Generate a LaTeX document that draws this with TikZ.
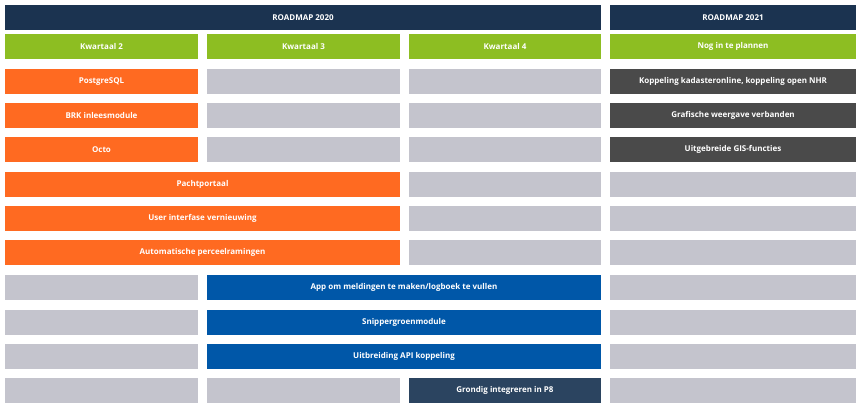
\documentclass[tikz,border=0pt]{standalone}
\usepackage{fontspec}
\setmainfont{Open Sans}
\definecolor{navy}{HTML}{1B3350}
\definecolor{lime}{HTML}{8DBE22}
\definecolor{orng}{HTML}{FF6A21}
\definecolor{gry}{HTML}{C4C4CD}
\definecolor{dgry}{HTML}{4A4A4A}
\definecolor{blu}{HTML}{0057A8}
\definecolor{slate}{HTML}{2B4460}
\tikzset{cell/.style={inner sep=0pt,minimum height=25pt,text=white,font=\fontsize{8}{9}\selectfont\bfseries}}
% \C{name}{x1}{x2}{top}{color}{text}
\newcommand\C[6]{\node[cell,fill=#5,minimum width={#3-#2}] (#1) at ({(#2+#3)/2},{#4+12.5}) {#6};}
\begin{document}
\begin{tikzpicture}[x=1pt,y=-1pt]
\useasboundingbox[fill=white] (0,0) rectangle (862,409);
\C{h20}{5}{601}{5}{navy}{ROADMAP 2020}
\C{h21}{610}{856}{5}{navy}{ROADMAP 2021}
\C{q2}{5}{198}{34}{lime}{Kwartaal 2}
\C{q3}{207}{400}{34}{lime}{Kwartaal 3}
\C{q4}{409}{601}{34}{lime}{Kwartaal 4}
\C{q5}{610}{856}{34}{lime}{Nog in te plannen}
\C{a1}{5}{198}{69}{orng}{PostgreSQL}
\C{a2}{207}{400}{69}{gry}{}
\C{a3}{409}{601}{69}{gry}{}
\C{a4}{610}{856}{69}{dgry}{Koppeling kadasteronline, koppeling open NHR}
\C{b1}{5}{198}{103}{orng}{BRK inleesmodule}
\C{b2}{207}{400}{103}{gry}{}
\C{b3}{409}{601}{103}{gry}{}
\C{b4}{610}{856}{103}{dgry}{Grafische weergave verbanden}
\C{c1}{5}{198}{137}{orng}{Octo}
\C{c2}{207}{400}{137}{gry}{}
\C{c3}{409}{601}{137}{gry}{}
\C{c4}{610}{856}{137}{dgry}{Uitgebreide GIS-functies}
\C{d1}{5}{400}{172}{orng}{Pachtportaal}
\C{d3}{409}{601}{172}{gry}{}
\C{d4}{610}{856}{172}{gry}{}
\C{e1}{5}{400}{206}{orng}{User interfase vernieuwing}
\C{e3}{409}{601}{206}{gry}{}
\C{e4}{610}{856}{206}{gry}{}
\C{f1}{5}{400}{240}{orng}{Automatische perceelramingen}
\C{f3}{409}{601}{240}{gry}{}
\C{f4}{610}{856}{240}{gry}{}
\C{g1}{5}{198}{275}{gry}{}
\C{g2}{207}{601}{275}{blu}{App om meldingen te maken/logboek te vullen}
\C{g4}{610}{856}{275}{gry}{}
\C{i1}{5}{198}{310}{gry}{}
\C{i2}{207}{601}{310}{blu}{Snippergroenmodule}
\C{i4}{610}{856}{310}{gry}{}
\C{j1}{5}{198}{344}{gry}{}
\C{j2}{207}{601}{344}{blu}{Uitbreiding API koppeling}
\C{j4}{610}{856}{344}{gry}{}
\C{k1}{5}{198}{378}{gry}{}
\C{k2}{207}{400}{378}{gry}{}
\C{k3}{409}{601}{378}{slate}{Grondig integreren in P8}
\C{k4}{610}{856}{378}{gry}{}
\end{tikzpicture}
\end{document}
